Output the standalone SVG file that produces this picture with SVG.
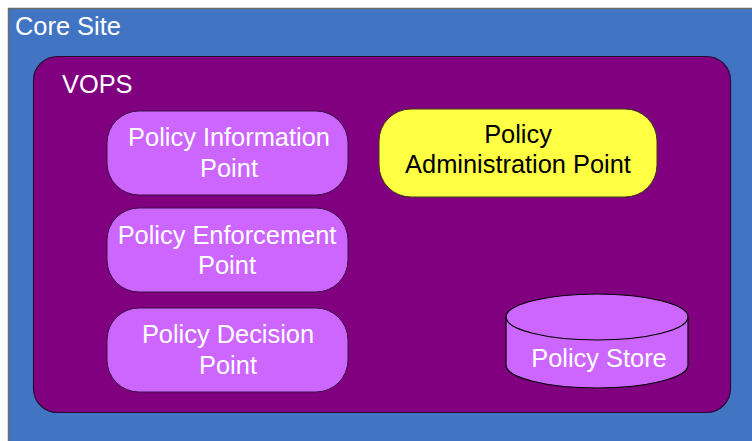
<svg xmlns="http://www.w3.org/2000/svg" width="752" height="441" viewBox="0 0 752 441">
<style>
text{font-family:"Liberation Sans",Arial,sans-serif;font-size:25.4px}
.w{fill:#ffffff}
.k{fill:#000000}
.c{text-anchor:middle}
.pill{fill:#cc66ff;stroke:#3a1040;stroke-width:1}
</style>
<rect width="752" height="441" fill="#ffffff"/>
<g id="core-site">
<rect x="8.5" y="8.5" width="760" height="450" fill="#4274c4" stroke="#6b6b6b" stroke-width="1.5"/>
<text class="w" x="15" y="35">Core Site</text>
</g>
<g id="vops">
<rect x="33.5" y="56.5" width="697" height="356" rx="24" fill="#800080" stroke="#2a0a30" stroke-width="1.2"/>
<text class="w" x="62" y="93">VOPS</text>
</g>
<g id="pip">
<rect class="pill" x="107" y="111" width="241" height="84" rx="32"/>
<text class="w c" x="229" y="146">Policy Information</text>
<text class="w c" x="229" y="177">Point</text>
</g>
<g id="pep">
<rect class="pill" x="107" y="208" width="241" height="84" rx="32"/>
<text class="w c" x="227" y="244">Policy Enforcement</text>
<text class="w c" x="227" y="274">Point</text>
</g>
<g id="pdp">
<rect class="pill" x="107" y="308" width="241" height="84" rx="32"/>
<text class="w c" x="228" y="343">Policy Decision</text>
<text class="w c" x="228" y="374">Point</text>
</g>
<g id="pap">
<rect x="379" y="109" width="278" height="88" rx="32" fill="#ffff44" stroke="#3a3a10" stroke-width="1"/>
<text class="k c" x="518" y="143">Policy</text>
<text class="k c" x="518" y="173">Administration Point</text>
</g>
<g id="policy-store">
<path d="M506,317 L506,365 A91,23 0 0 0 688,365 L688,317" fill="#cc66ff" stroke="#000" stroke-width="1.2"/>
<ellipse cx="597" cy="317" rx="91" ry="23" fill="#cc66ff" stroke="#000" stroke-width="1.2"/>
<text class="w c" x="599" y="367">Policy Store</text>
</g>
<g id="connectors"/>
</svg>
